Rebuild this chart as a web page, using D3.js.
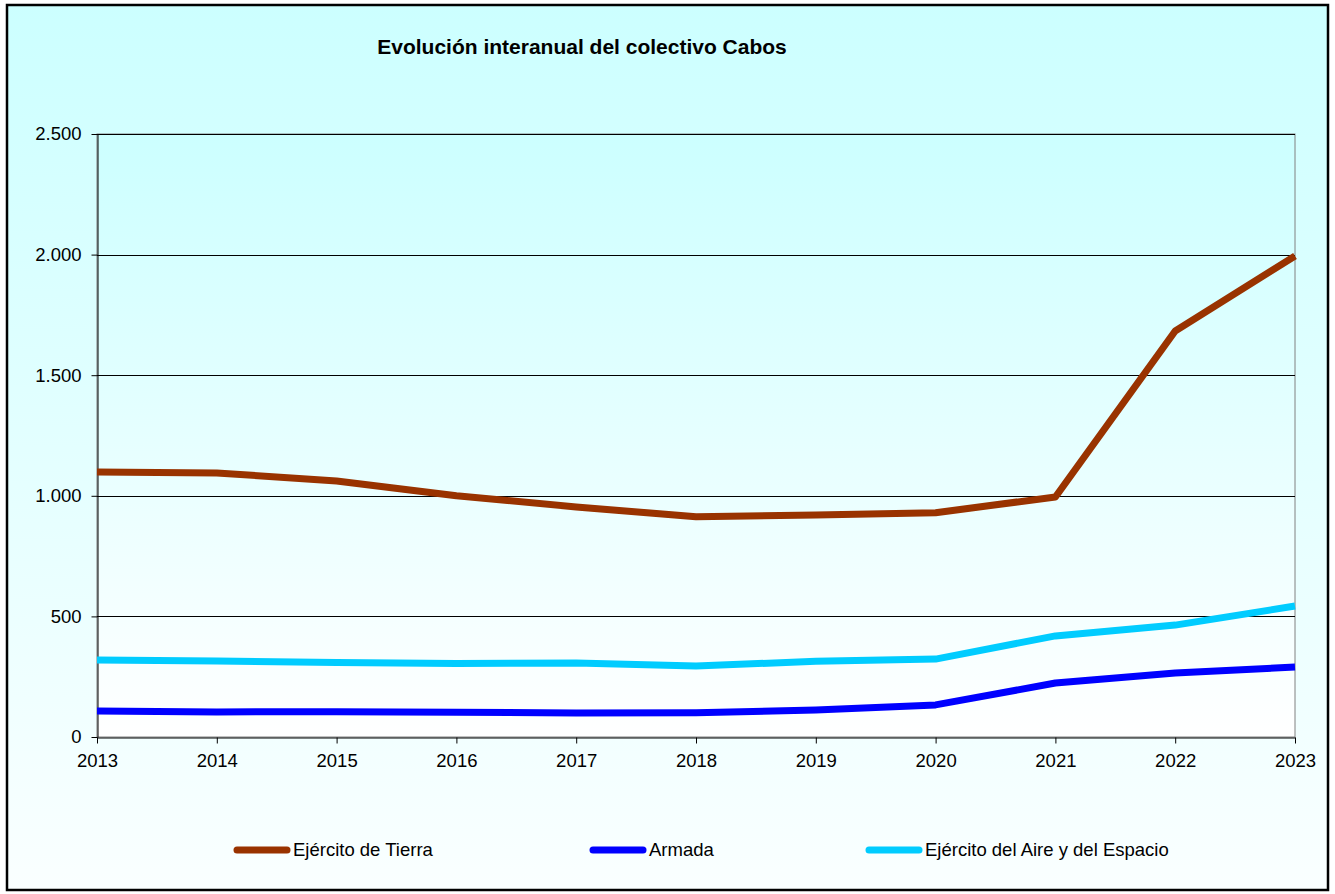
<!DOCTYPE html>
<html><head><meta charset="utf-8">
<script src="https://cdn.jsdelivr.net/npm/d3@7"></script>
<style>body{margin:0;background:#fff}svg{display:block}</style>
</head><body>
<script>
const years = [2013,2014,2015,2016,2017,2018,2019,2020,2021,2022,2023];
const tierra = [1099,1095,1061,1000,954,913,920,930,995,1683,1994];
const armada = [108,104,105,103,100,101,112,133,224,265,290];
const aire = [319,315,309,305,307,294,314,323,419,464,543];
const seriesNames = ["Ejército de Tierra","Armada","Ejército del Aire y del Espacio"];
const seriesColors = ["#993300","#0000FF","#00CCFF"];
const yTicks = [0,500,1000,1500,2000,2500];
const title = "Evolución interanual del colectivo Cabos";

const W=1335,H=894;
const FONT="Liberation Sans, Arial, sans-serif";
const svg=d3.select("body").append("svg").attr("width",W).attr("height",H);
const defs=svg.append("defs");
const g1=defs.append("linearGradient").attr("id","outerG").attr("x1",0).attr("y1",0).attr("x2",0).attr("y2",1);
g1.append("stop").attr("offset","0%").attr("stop-color","#CCFFFF");
g1.append("stop").attr("offset","100%").attr("stop-color","#FAFFFF");
const g2=defs.append("linearGradient").attr("id","plotG").attr("x1",0).attr("y1",0).attr("x2",0).attr("y2",1);
g2.append("stop").attr("offset","0%").attr("stop-color","#CCFFFF");
g2.append("stop").attr("offset","100%").attr("stop-color","#FFFFFF");

svg.append("rect").attr("x",7).attr("y",5).attr("width",1321).attr("height",885)
  .attr("fill","url(#outerG)").attr("stroke","#000").attr("stroke-width",2.5);

const m={l:97,r:1295,t:134,b:737};
const x=d3.scalePoint().domain(years).range([m.l,m.r]);
const y=d3.scaleLinear().domain([0,2500]).range([m.b,m.t]);

svg.append("rect").attr("x",m.l).attr("y",m.t).attr("width",m.r-m.l).attr("height",m.b-m.t)
  .attr("fill","url(#plotG)").attr("stroke","#808080").attr("stroke-width",1);

svg.append("g").selectAll("line").data(yTicks.filter(d=>d>0)).join("line")
  .attr("x1",m.l).attr("x2",m.r).attr("y1",d=>Math.round(y(d))+0.5).attr("y2",d=>Math.round(y(d))+0.5)
  .attr("stroke","#000").attr("stroke-width",1);

const yAxis=svg.append("g").attr("transform",`translate(${m.l+0.5},0)`)
  .call(d3.axisLeft(y).tickValues(yTicks).tickSize(6).tickSizeOuter(0).tickPadding(10)
    .tickFormat(d=>d3.format(",")(d).replace(/,/g,".")));
const xAxis=svg.append("g").attr("transform",`translate(0,${m.b+0.5})`)
  .call(d3.axisBottom(x).tickSize(6).tickSizeOuter(0).tickPadding(10));
[yAxis,xAxis].forEach(a=>{
  a.attr("font-size",18.5).attr("font-family",FONT);
  a.select(".domain").attr("stroke","#000");
  a.selectAll(".tick line").attr("stroke","#000");
  a.selectAll("text").attr("fill","#000");
});

const data=[tierra,armada,aire];
const line=d3.line().x((d,i)=>x(years[i])).y(d=>y(d));
data.forEach((s,k)=>{
  svg.append("path").datum(s).attr("d",line).attr("fill","none")
    .attr("stroke",seriesColors[k]).attr("stroke-width",7).attr("stroke-linejoin","round");
});

svg.append("text").attr("x",582).attr("y",54).attr("text-anchor","middle")
  .attr("font-family",FONT).attr("font-weight","bold").attr("font-size",21)
  .text(title);

const legX=[234,590,866];
const leg=svg.append("g");
seriesNames.forEach((n,k)=>{
  leg.append("line").attr("x1",legX[k]+3).attr("x2",legX[k]+53).attr("y1",850).attr("y2",850)
    .attr("stroke",seriesColors[k]).attr("stroke-width",7).attr("stroke-linecap","round");
  leg.append("text").attr("x",legX[k]+59).attr("y",856).attr("font-family",FONT)
    .attr("font-size",18.5).text(n);
});
</script>
</body></html>
